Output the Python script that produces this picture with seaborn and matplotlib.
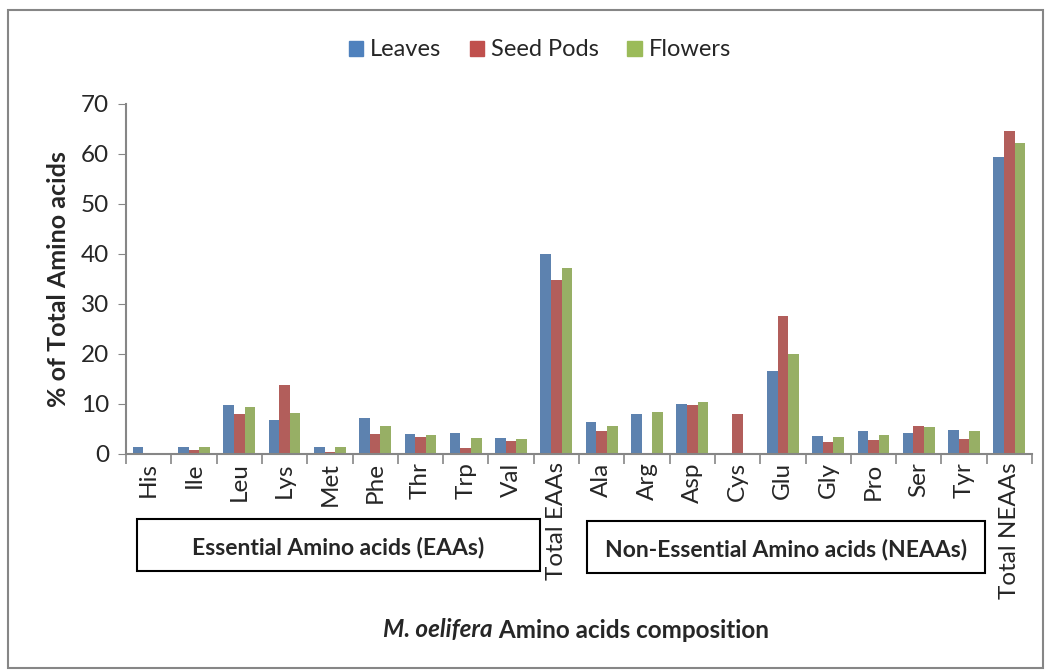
import pandas as pd
import matplotlib.pyplot as plt
import seaborn as sns
from matplotlib.patches import Rectangle

acids = ["His", "Ile", "Leu", "Lys", "Met", "Phe", "Thr", "Trp", "Val", "Total EAAs",
         "Ala", "Arg", "Asp", "Cys", "Glu", "Gly", "Pro", "Ser", "Tyr", "Total NEAAs"]
leaves = [1.4, 1.45, 9.9, 6.9, 1.4, 7.2, 4.0, 4.3, 3.3, 40.1,
          6.5, 8.0, 10.0, 0.0, 16.7, 3.7, 4.7, 4.3, 4.9, 59.5]
seed_pods = [0.25, 0.8, 8.0, 13.8, 0.5, 4.0, 3.5, 1.2, 2.6, 34.9,
             4.7, 0.0, 9.9, 8.0, 27.7, 2.4, 2.9, 5.6, 3.1, 64.7]
flowers = [0.3, 1.5, 9.4, 8.3, 1.5, 5.6, 3.9, 3.3, 3.1, 37.3,
           5.6, 8.5, 10.4, 0.0, 20.0, 3.4, 3.8, 5.4, 4.6, 62.3]
parts = ["Leaves", "Seed Pods", "Flowers"]
colors = ["#4F81BD", "#C0504D", "#9BBB59"]

df = pd.DataFrame({"acid": acids * 3,
                   "part": [p for p in parts for _ in acids],
                   "value": leaves + seed_pods + flowers})

sns.set_style("white")
plt.rcParams["font.family"] = ["Lato", "DejaVu Sans"]

fig = plt.figure(figsize=(10.48, 6.71), dpi=100)
ax = fig.add_axes([126 / 1048, 1 - 454 / 671, 906 / 1048, 350 / 671])

sns.barplot(data=df, x="acid", y="value", hue="part", order=acids, hue_order=parts,
            palette=colors, width=0.7, errorbar=None, linewidth=0, ax=ax)

ax.set_ylim(0, 70)
ax.set_xlim(-0.5, len(acids) - 0.5)
ax.set_yticks(range(0, 71, 10))
ax.tick_params(axis="y", labelsize=17.5, length=6, color="#868686", direction="out", left=True, pad=6)
ax.tick_params(axis="x", which="major", length=0, labelsize=17.5, rotation=90, pad=6)
ax.set_xticks([i - 0.5 for i in range(len(acids) + 1)], minor=True)
ax.tick_params(axis="x", which="minor", length=7, color="#868686", width=1.2, bottom=True)
for s in ["top", "right"]:
    ax.spines[s].set_visible(False)
for s in ["left", "bottom"]:
    ax.spines[s].set_color("#868686")
    ax.spines[s].set_linewidth(1.5)
ax.set_xlabel("")
ax.set_ylabel("% of Total Amino acids", fontsize=18, fontweight="bold", labelpad=8)

handles = [Rectangle((0, 0), 1, 1, color=c) for c in colors]
ax.legend(handles, parts, loc="center", bbox_to_anchor=(540 / 1048, 1 - 50 / 671),
          bbox_transform=fig.transFigure, ncol=3, frameon=False, fontsize=17,
          handlelength=0.6, handleheight=0.6, handletextpad=0.3, columnspacing=1.2)

# group boxes
fig.patches.append(Rectangle((137 / 1048, 1 - 571 / 671), 403 / 1048, 52 / 671,
                             transform=fig.transFigure, fill=False, edgecolor="black", lw=1.5))
fig.patches.append(Rectangle((587 / 1048, 1 - 573 / 671), 398 / 1048, 52 / 671,
                             transform=fig.transFigure, fill=False, edgecolor="black", lw=1.5))
fig.text(338 / 1048, 1 - 547 / 671, "Essential Amino acids (EAAs)", ha="center", va="center",
         fontsize=16.5, fontweight="bold")
fig.text(786 / 1048, 1 - 549 / 671, "Non-Essential Amino acids (NEAAs)", ha="center", va="center",
         fontsize=16.5, fontweight="bold")

# outer border
fig.patches.append(Rectangle((8 / 1048, 3 / 671), 1035 / 1048, 658 / 671,
                             transform=fig.transFigure, fill=False, edgecolor="#868686", lw=1.5))

# x label with italic part
fig.canvas.draw()
r = fig.canvas.get_renderer()
t1 = fig.text(0, 1 - 630 / 671, "M. oelifera", fontsize=17.5, fontweight="bold", style="italic", va="center")
t2 = fig.text(0, 1 - 630 / 671, " Amino acids composition", fontsize=17.5, fontweight="bold", va="center")
w1 = t1.get_window_extent(r).width
w2 = t2.get_window_extent(r).width
x0 = 576 - (w1 + w2) / 2
t1.set_x(x0 / 1048)
t2.set_x((x0 + w1) / 1048)

fig.savefig("out.png", dpi=100)
